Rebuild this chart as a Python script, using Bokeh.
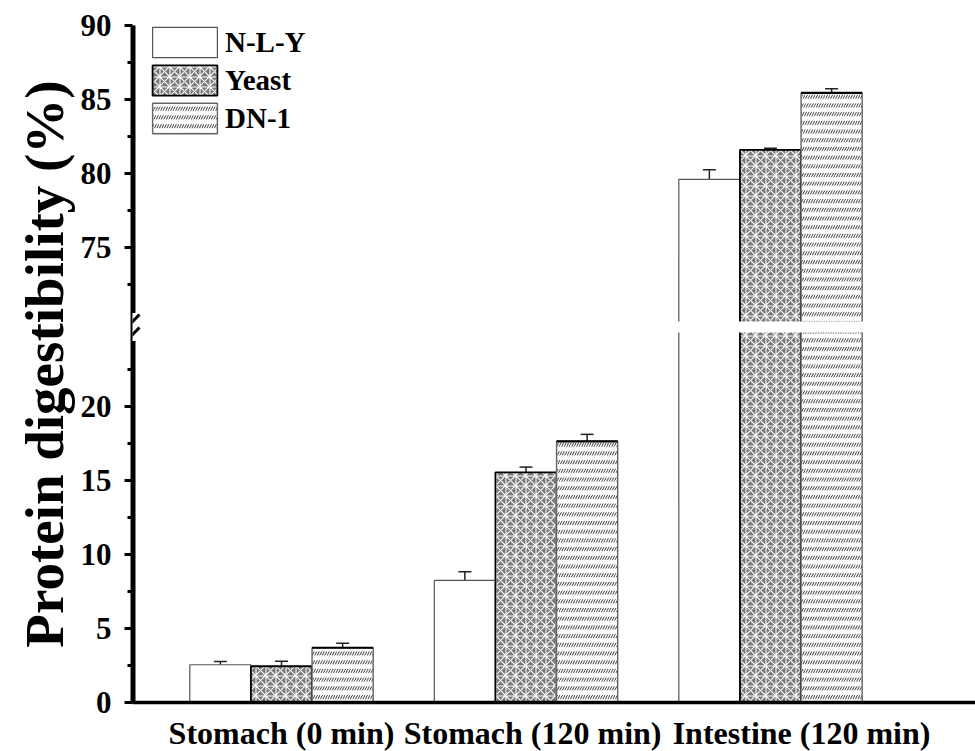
from bokeh.plotting import figure
from bokeh.models import (ColumnDataSource, FixedTicker, Range1d, Whisker, TeeHead,
                          Legend, LegendItem, BoxAnnotation, Arrow)
from bokeh.embed import file_html
from bokeh.resources import INLINE

# ---------------- data ----------------
categories = ["Stomach (0 min)", "Stomach (120 min)", "Intestine (120 min)"]
series = ["N-L-Y", "Yeast", "DN-1"]
nly_values = [2.55, 8.25, 79.6]
nly_errors = [0.22, 0.58, 0.66]
yeast_values = [2.45, 15.55, 81.6]
yeast_errors = [0.33, 0.36, 0.10]
dn1_values = [3.70, 17.65, 85.45]
dn1_errors = [0.30, 0.47, 0.28]
lower_ticks = [0, 5, 10, 15, 20]
upper_ticks = [75, 80, 85, 90]
lower_minor = [2.5, 7.5, 12.5, 17.5, 22.5]
upper_minor = [72.5, 77.5, 82.5, 87.5]
# where the category captions sit along the x axis
label_positions = [1.0, 2.027, 3.127]

# broken axis: 0-25 and 70-90
LOW_MAX = 25.0
HIGH_MIN = 70.0
HIGH_MAX = 90.0
GAP = 0.75


def disp(v):
    return v if v <= LOW_MAX else v - HIGH_MIN + LOW_MAX + GAP


FONT = "Liberation Serif"
FRAME_W, FRAME_H = 843, 677
PX_X = 244.5   # px per x unit
X0 = 1 - 149 / PX_X
X1 = X0 + FRAME_W / PX_X
PX_Y = FRAME_H / disp(HIGH_MAX)
YTOP = disp(HIGH_MAX)

p = figure(frame_width=FRAME_W, frame_height=FRAME_H, x_range=Range1d(X0, X1),
           y_range=Range1d(0, YTOP),
           output_backend="svg", toolbar_location=None,
           min_border_left=132, min_border_right=0,
           min_border_top=25, min_border_bottom=49)
p.outline_line_color = None
p.grid.visible = False
p.background_fill_color = "white"

offsets = [-0.25, 0.0, 0.25]
vals = [nly_values, yeast_values, dn1_values]
errs = [nly_errors, yeast_errors, dn1_errors]

renderers = []
whisker_sources = []
for k in range(3):
    xs = [i + 1 + offsets[k] for i in range(len(categories))]
    tops = [disp(v) for v in vals[k]]
    src = ColumnDataSource(dict(x=xs, top=tops))
    if k == 0:
        r = [p.vbar(x="x", top="top", bottom=0, width=0.25, source=src,
                    fill_color="white", line_color="#555555", line_width=1.2)]
    elif k == 1:
        r = [p.vbar(x="x", top="top", bottom=0, width=0.25, source=src,
                    fill_color="#7a7a7a", line_color="black", line_width=1.8,
                    hatch_pattern="criss_cross", hatch_color="white",
                    hatch_weight=1.1, hatch_scale=10)]
    else:
        r1 = p.vbar(x="x", top="top", bottom=0, width=0.25, source=src,
                    fill_color="white", line_color=None,
                    hatch_pattern="right_diagonal_line", hatch_color="#3a3a3a",
                    hatch_weight=1.0, hatch_scale=5)
        r2 = p.vbar(x="x", top="top", bottom=0, width=0.25, source=src,
                    fill_color=None, line_color="#666666", line_width=1.4,
                    hatch_pattern="horizontal_line", hatch_color="white",
                    hatch_weight=4.6, hatch_scale=8.7)
        r = [r1, r2]
    renderers.append(r)
    wsrc = ColumnDataSource(dict(
        x=xs,
        upper=[disp(v + e) for v, e in zip(vals[k], errs[k])],
        lower=[disp(v - e) for v, e in zip(vals[k], errs[k])],
    ))
    whisker_sources.append(wsrc)

# top edge of DN-1 bars is drawn dark
p.segment(x0=[i + 1 + offsets[2] - 0.125 for i in range(3)],
          x1=[i + 1 + offsets[2] + 0.125 for i in range(3)],
          y0=[disp(v) for v in dn1_values], y1=[disp(v) for v in dn1_values],
          line_color="black", line_width=2.2)

# white gap across bars at the break
p.quad(left=X0, right=X1, bottom=LOW_MAX, top=LOW_MAX + GAP,
       fill_color="white", line_color=None)

for wsrc in whisker_sources:
    w = Whisker(source=wsrc, base="x", upper="upper", lower="lower",
                dimension="height", line_color="#222222", line_width=1.5,
                upper_head=TeeHead(size=13, line_color="#222222", line_width=1.5),
                lower_head=TeeHead(size=13, line_color="#222222", line_width=1.5))
    p.add_layout(w)

# y axis
yticks = [disp(t) for t in lower_ticks + upper_ticks]
yminor = [disp(t) for t in lower_minor + upper_minor]
p.yaxis.ticker = FixedTicker(ticks=yticks, minor_ticks=yminor)
p.yaxis.major_label_overrides = {disp(t): str(t) for t in lower_ticks + upper_ticks}
p.yaxis.axis_label = "Protein digestibility (%)"
p.yaxis.axis_label_text_font = FONT
p.yaxis.axis_label_text_font_style = "bold"
p.yaxis.axis_label_text_font_size = "55px"
p.yaxis.axis_label_text_color = "black"
p.yaxis.axis_label_standoff = 3
p.yaxis.major_label_text_font = FONT
p.yaxis.major_label_text_font_style = "bold"
p.yaxis.major_label_text_font_size = "31px"
p.yaxis.major_label_text_color = "black"
p.yaxis.major_label_standoff = 13
p.yaxis.axis_line_width = 4
p.yaxis.axis_line_color = "black"
p.yaxis.major_tick_line_width = 3
p.yaxis.major_tick_line_color = "black"
p.yaxis.major_tick_out = 8
p.yaxis.major_tick_in = 0
p.yaxis.minor_tick_line_width = 3
p.yaxis.minor_tick_line_color = "black"
p.yaxis.minor_tick_out = 5
p.yaxis.minor_tick_in = 0

# x axis
p.xaxis.ticker = FixedTicker(ticks=label_positions, minor_ticks=[])
p.xaxis.major_label_overrides = {pos: c for pos, c in zip(label_positions, categories)}
p.xaxis.major_label_text_font = FONT
p.xaxis.major_label_text_font_style = "bold"
p.xaxis.major_label_text_font_size = "32px"
p.xaxis.major_label_text_color = "black"
p.xaxis.major_label_standoff = 6
p.xaxis.axis_line_width = 3.5
p.xaxis.axis_line_color = "black"
p.xaxis.major_tick_line_color = None
p.xaxis.minor_tick_line_color = None

# reinforce the left axis line inside the frame (solid black, broken at the gap)
mid = LOW_MAX + GAP / 2
xin = X0 + 1.5 / PX_X
p.segment(x0=[xin, xin], x1=[xin, xin],
          y0=[0, mid + 14 / PX_Y], y1=[mid - 14 / PX_Y, YTOP],
          line_color="black", line_width=3, level="overlay")
# x axis pokes out a little to the left of the y axis
p.add_layout(Arrow(end=None, x_start=X0 - 12 / PX_X, y_start=0, x_end=X0, y_end=0,
                   line_width=3.5, line_color="black"))

# axis break marks
p.add_layout(BoxAnnotation(left=X0 - 6 / PX_X, right=X0 + 6 / PX_X,
                           bottom=mid - 14 / PX_Y, top=mid + 14 / PX_Y,
                           fill_color="white", fill_alpha=1, line_color=None))
for dy in (6.5, -6.5):
    c = mid + dy / PX_Y
    p.add_layout(Arrow(end=None, x_start=X0 - 5 / PX_X, y_start=c - 6 / PX_Y,
                       x_end=X0 + 7 / PX_X, y_end=c + 6 / PX_Y,
                       line_width=3, line_color="black"))

# legend
GW, GH = 81, 38
legend = Legend(items=[LegendItem(label=s, renderers=r) for s, r in zip(series, renderers)],
                location=(12, FRAME_H + 2 - 3 * GH))
legend.glyph_width = GW
legend.glyph_height = GH
legend.spacing = 0
legend.padding = 0
legend.margin = 0
legend.label_standoff = 0
legend.border_line_color = None
legend.background_fill_alpha = 0
legend.label_text_font = FONT
legend.label_text_font_style = "bold"
legend.label_text_font_size = "29px"
legend.label_text_color = "black"
legend.label_height = GH
p.add_layout(legend)

open("out.html", "w").write(file_html(p, INLINE))
